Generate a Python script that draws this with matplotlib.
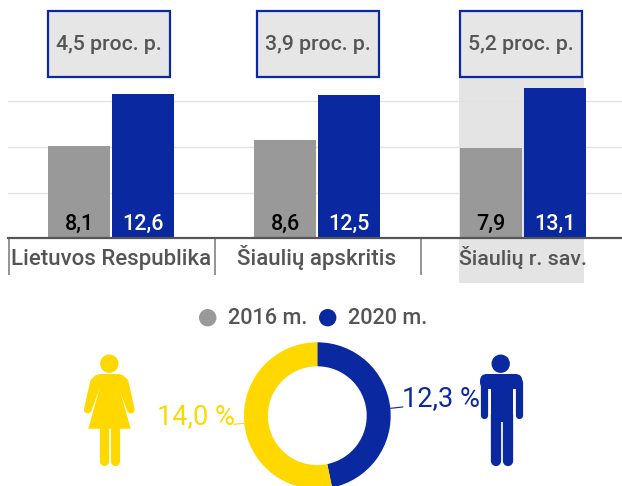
import matplotlib
matplotlib.use("Agg")
import matplotlib.pyplot as plt
from matplotlib.patches import Rectangle, Circle, Polygon, FancyBboxPatch

plt.rcParams['font.family'] = ['Roboto', 'DejaVu Sans']

# ---- data ----
categories = ["Lietuvos Respublika", "Šiaulių apskritis", "Šiaulių r. sav."]
values_2016 = [8.1, 8.6, 7.9]
values_2020 = [12.6, 12.5, 13.1]
labels_2016 = ["8,1", "8,6", "7,9"]
labels_2020 = ["12,6", "12,5", "13,1"]
differences = ["4,5 proc. p.", "3,9 proc. p.", "5,2 proc. p."]
legend_labels = ["2016 m.", "2020 m."]
donut_values = [12.3, 14.0]
donut_labels = ["12,3 %", "14,0 %"]
grid_ticks = [4, 8, 12]

BLUE = "#0A28A0"
GRAY = "#999999"
YELLOW = "#FFD800"
TEXT = "#555555"
PALE = "#E4E4E4"

W, H = 622, 486
fig = plt.figure(figsize=(W / 100, H / 100), dpi=100, facecolor="white")

# background layer in pixel coordinates
bg = fig.add_axes([0, 0, 1, 1], zorder=0)
bg.set_xlim(0, W)
bg.set_ylim(H, 0)
bg.axis("off")

bg.add_patch(Rectangle((459, 77), 125, 206, fc=PALE, ec="none", zorder=0))

for x0, x1, t in zip([48, 257, 460], [170, 379, 582], differences):
    bg.add_patch(Rectangle((x0, 11), x1 - x0, 66, fc="#E6E6E6", ec=BLUE, lw=1.6, zorder=2))
    bg.text((x0 + x1) / 2 - 0.5, 44, t, ha="center", va="center", fontsize=15.3,
            color=TEXT, fontweight="medium", zorder=3)

for x in [8.7, 214.7, 421]:
    bg.plot([x, x], [238, 275], color="#777777", lw=1.1, zorder=1, solid_capstyle="butt")

# bars
baseline, top, ppu = 238.5, 80, 11.46
ax = fig.add_axes([8 / W, (H - baseline) / H, 614 / W, (baseline - top) / H], zorder=1)
ax.patch.set_alpha(0)
ax.set_xlim(-0.5, 2.48)
ax.set_ylim(0, (baseline - top) / ppu)
for s in ["top", "left", "right"]:
    ax.spines[s].set_visible(False)
ax.spines["bottom"].set_color("#555555")
ax.spines["bottom"].set_linewidth(1.6)
ax.set_yticks(grid_ticks)
ax.tick_params(axis="y", length=0, labelleft=False)
ax.yaxis.grid(True, color="#E3E3E3", lw=1)
ax.set_axisbelow(True)
xs = list(range(len(categories)))
bw, off = 0.301, 0.155
ax.bar([x - off for x in xs], values_2016, bw, color=GRAY, zorder=2)
ax.bar([x + off for x in xs], values_2020, bw, color=BLUE, zorder=2)
ax.set_xticks(xs)
ax.set_xticklabels(categories, fontsize=16, color=TEXT, fontweight="medium", va="baseline")
ax.get_xticklabels()[2].set_fontsize(15.4)
ax.tick_params(axis="x", length=0, pad=19)
for x, a, b in zip(xs, labels_2016, labels_2020):
    ax.text(x - off, 1.25, a, ha="center", va="center", fontsize=15.5, color="black",
            fontweight="medium", zorder=3)
    ax.text(x + off, 1.25, b, ha="center", va="center", fontsize=15.5, color="white",
            fontweight="medium", zorder=3)

# legend
for cx, col, tx, t in zip([207.7, 327.7], [GRAY, BLUE], [228, 348], legend_labels):
    bg.add_patch(Circle((cx, 317.7), 8.7, fc=col, ec="none"))
    bg.text(tx, 318, t, ha="left", va="center", fontsize=15.6, color=TEXT, fontweight="medium")

# donut
cx, cy, R = 317.3, 415.7, 73.4
dax = fig.add_axes([(cx - R) / W, (H - cy - R) / H, 2 * R / W, 2 * R / H], zorder=1)
dax.pie(donut_values, colors=[BLUE, YELLOW], startangle=90, counterclock=False,
        radius=1, wedgeprops=dict(width=24 / R, edgecolor="none"))
dax.set_xlim(-1, 1)
dax.set_ylim(-1, 1)

bg.plot([390.7, 402.7], [408.3, 407], color=BLUE, lw=0.8)
bg.plot([234, 244], [424.3, 423.3], color=YELLOW, lw=0.8)
bg.text(402.5, 398.5, donut_labels[0], ha="left", va="center", fontsize=19.5, color=BLUE)
bg.text(157, 416.5, donut_labels[1], ha="left", va="center", fontsize=19.5, color=YELLOW)

# woman icon
bg.add_patch(Circle((109.3, 363.7), 9.2, fc=YELLOW, ec="none"))
bg.add_patch(FancyBboxPatch((99, 377), 21, 8, boxstyle="round,pad=3,rounding_size=5", fc=YELLOW, ec="none"))
bg.add_patch(Polygon([(100, 380), (118.7, 380), (119, 387), (130.7, 428.7), (88.3, 428.7), (100, 387)],
                     fc=YELLOW, ec="none", closed=True))
bg.add_patch(Polygon([(96, 375), (90.5, 380), (84.1, 408.5), (91.3, 411), (100, 387.5), (101, 376)],
                     fc=YELLOW, ec="none", closed=True))
bg.add_patch(Polygon([(122.6, 375), (128.1, 380), (134.5, 408.5), (127.3, 411), (118.6, 387.5), (117.6, 376)],
                     fc=YELLOW, ec="none", closed=True))
bg.add_patch(Circle((87.7, 409.7), 3.7, fc=YELLOW, ec="none"))
bg.add_patch(Circle((130.9, 409.7), 3.7, fc=YELLOW, ec="none"))
for lx in [103.7, 114.7]:
    bg.plot([lx, lx], [425, 461], color=YELLOW, lw=6.6, solid_capstyle="round")

# man icon
bg.add_patch(Circle((500.7, 363.7), 9.2, fc=BLUE, ec="none"))
bg.add_patch(FancyBboxPatch((487, 381), 28.3, 1, boxstyle="round,pad=7,rounding_size=7", fc=BLUE, ec="none"))
bg.add_patch(Rectangle((490.7, 380), 22, 42, fc=BLUE, ec="none"))
for lx in [483.7, 518.6]:
    bg.plot([lx, lx], [382, 414.7], color=BLUE, lw=5.2, solid_capstyle="round")
for lx in [495.5, 507.5]:
    bg.plot([lx, lx], [415, 460.6], color=BLUE, lw=7.4, solid_capstyle="round")

fig.savefig("out.png", dpi=100)
